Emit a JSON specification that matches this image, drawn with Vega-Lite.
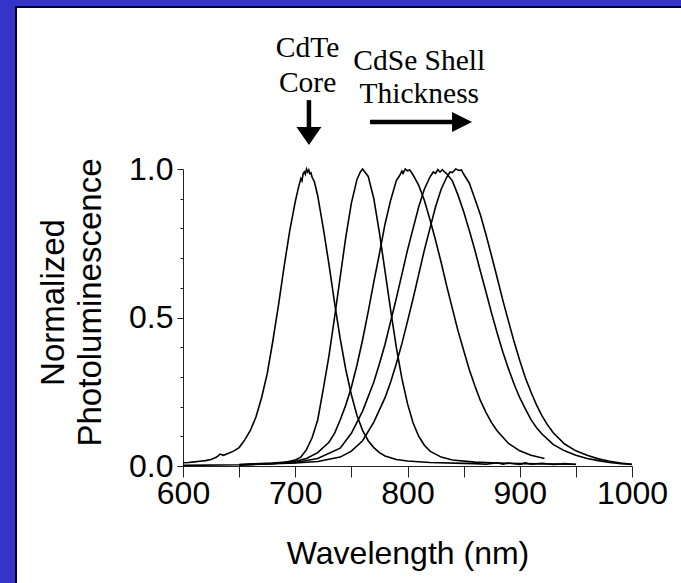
{
  "$schema": "https://vega.github.io/schema/vega-lite/v6.json",
  "width": 670,
  "height": 580,
  "autosize": {"type": "none"},
  "padding": {"left": 16, "top": 7, "right": 0, "bottom": 0},
  "background": "#3434c8",
  "config": {
    "view": {"fill": "white", "stroke": "#000033", "strokeWidth": 2},
    "font": "Liberation Sans"
  },
  "resolve": {"axis": {"y": "independent"}},
  "datasets": {
    "spectra": [
      {"s": "c1", "w": 600, "v": 0.011}, {"s": "c1", "w": 605, "v": 0.012}, {"s": "c1", "w": 610, "v": 0.014}, {"s": "c1", "w": 615, "v": 0.016},
      {"s": "c1", "w": 620, "v": 0.018}, {"s": "c1", "w": 625, "v": 0.022}, {"s": "c1", "w": 630, "v": 0.03}, {"s": "c1", "w": 633, "v": 0.04},
      {"s": "c1", "w": 636, "v": 0.036}, {"s": "c1", "w": 640, "v": 0.042}, {"s": "c1", "w": 645, "v": 0.05}, {"s": "c1", "w": 650, "v": 0.062},
      {"s": "c1", "w": 655, "v": 0.088}, {"s": "c1", "w": 660, "v": 0.12}, {"s": "c1", "w": 665, "v": 0.165}, {"s": "c1", "w": 670, "v": 0.23},
      {"s": "c1", "w": 675, "v": 0.31}, {"s": "c1", "w": 680, "v": 0.42}, {"s": "c1", "w": 685, "v": 0.54}, {"s": "c1", "w": 690, "v": 0.67},
      {"s": "c1", "w": 695, "v": 0.79}, {"s": "c1", "w": 700, "v": 0.89}, {"s": "c1", "w": 703, "v": 0.94}, {"s": "c1", "w": 705, "v": 0.968},
      {"s": "c1", "w": 706, "v": 0.96}, {"s": "c1", "w": 707, "v": 0.984}, {"s": "c1", "w": 708, "v": 0.99}, {"s": "c1", "w": 709, "v": 0.982},
      {"s": "c1", "w": 710, "v": 1.0}, {"s": "c1", "w": 711, "v": 0.99}, {"s": "c1", "w": 712, "v": 0.997}, {"s": "c1", "w": 713, "v": 0.984},
      {"s": "c1", "w": 714, "v": 0.987}, {"s": "c1", "w": 715, "v": 0.972}, {"s": "c1", "w": 717, "v": 0.958},
      {"s": "c1", "w": 720, "v": 0.91}, {"s": "c1", "w": 725, "v": 0.8}, {"s": "c1", "w": 730, "v": 0.68}, {"s": "c1", "w": 735, "v": 0.55},
      {"s": "c1", "w": 740, "v": 0.43}, {"s": "c1", "w": 745, "v": 0.325}, {"s": "c1", "w": 750, "v": 0.24}, {"s": "c1", "w": 755, "v": 0.17},
      {"s": "c1", "w": 760, "v": 0.12}, {"s": "c1", "w": 765, "v": 0.085}, {"s": "c1", "w": 770, "v": 0.062}, {"s": "c1", "w": 775, "v": 0.045},
      {"s": "c1", "w": 780, "v": 0.034}, {"s": "c1", "w": 790, "v": 0.022}, {"s": "c1", "w": 800, "v": 0.017}, {"s": "c1", "w": 820, "v": 0.012},
      {"s": "c1", "w": 850, "v": 0.009}, {"s": "c1", "w": 860, "v": 0.008}, {"s": "c1", "w": 870, "v": 0.006}, {"s": "c1", "w": 880, "v": 0.011},
      {"s": "c1", "w": 885, "v": 0.006}, {"s": "c1", "w": 890, "v": 0.01}, {"s": "c1", "w": 900, "v": 0.005}, {"s": "c1", "w": 905, "v": 0.011},
      {"s": "c1", "w": 910, "v": 0.006}, {"s": "c1", "w": 920, "v": 0.009}, {"s": "c1", "w": 930, "v": 0.005}, {"s": "c1", "w": 940, "v": 0.008},
      {"s": "c1", "w": 950, "v": 0.005},

      {"s": "c2", "w": 600, "v": 0.002}, {"s": "c2", "w": 650, "v": 0.004}, {"s": "c2", "w": 680, "v": 0.008}, {"s": "c2", "w": 690, "v": 0.012},
      {"s": "c2", "w": 700, "v": 0.02}, {"s": "c2", "w": 705, "v": 0.03}, {"s": "c2", "w": 710, "v": 0.055}, {"s": "c2", "w": 715, "v": 0.095},
      {"s": "c2", "w": 720, "v": 0.155}, {"s": "c2", "w": 725, "v": 0.26}, {"s": "c2", "w": 730, "v": 0.37}, {"s": "c2", "w": 735, "v": 0.5},
      {"s": "c2", "w": 740, "v": 0.635}, {"s": "c2", "w": 745, "v": 0.77}, {"s": "c2", "w": 750, "v": 0.885}, {"s": "c2", "w": 755, "v": 0.965},
      {"s": "c2", "w": 758, "v": 0.99}, {"s": "c2", "w": 760, "v": 1.0}, {"s": "c2", "w": 762, "v": 0.99}, {"s": "c2", "w": 765, "v": 0.975},
      {"s": "c2", "w": 770, "v": 0.9}, {"s": "c2", "w": 775, "v": 0.785}, {"s": "c2", "w": 780, "v": 0.655}, {"s": "c2", "w": 785, "v": 0.525},
      {"s": "c2", "w": 790, "v": 0.4}, {"s": "c2", "w": 795, "v": 0.295}, {"s": "c2", "w": 800, "v": 0.21}, {"s": "c2", "w": 805, "v": 0.145},
      {"s": "c2", "w": 810, "v": 0.1}, {"s": "c2", "w": 815, "v": 0.07}, {"s": "c2", "w": 820, "v": 0.05}, {"s": "c2", "w": 830, "v": 0.03},
      {"s": "c2", "w": 840, "v": 0.02}, {"s": "c2", "w": 860, "v": 0.013}, {"s": "c2", "w": 880, "v": 0.01}, {"s": "c2", "w": 900, "v": 0.008},
      {"s": "c2", "w": 950, "v": 0.006},

      {"s": "c3", "w": 650, "v": 0.005}, {"s": "c3", "w": 680, "v": 0.01}, {"s": "c3", "w": 700, "v": 0.016}, {"s": "c3", "w": 710, "v": 0.025},
      {"s": "c3", "w": 720, "v": 0.045}, {"s": "c3", "w": 730, "v": 0.08}, {"s": "c3", "w": 735, "v": 0.11}, {"s": "c3", "w": 740, "v": 0.155},
      {"s": "c3", "w": 745, "v": 0.205}, {"s": "c3", "w": 750, "v": 0.265}, {"s": "c3", "w": 755, "v": 0.34}, {"s": "c3", "w": 760, "v": 0.425},
      {"s": "c3", "w": 765, "v": 0.52}, {"s": "c3", "w": 770, "v": 0.62}, {"s": "c3", "w": 775, "v": 0.715}, {"s": "c3", "w": 780, "v": 0.815},
      {"s": "c3", "w": 785, "v": 0.895}, {"s": "c3", "w": 790, "v": 0.96}, {"s": "c3", "w": 793, "v": 0.978}, {"s": "c3", "w": 795, "v": 0.993},
      {"s": "c3", "w": 796, "v": 0.985}, {"s": "c3", "w": 798, "v": 1.0}, {"s": "c3", "w": 800, "v": 0.994}, {"s": "c3", "w": 802, "v": 0.997},
      {"s": "c3", "w": 805, "v": 0.98}, {"s": "c3", "w": 810, "v": 0.945}, {"s": "c3", "w": 815, "v": 0.895},
      {"s": "c3", "w": 820, "v": 0.83}, {"s": "c3", "w": 825, "v": 0.76}, {"s": "c3", "w": 830, "v": 0.685}, {"s": "c3", "w": 835, "v": 0.605},
      {"s": "c3", "w": 840, "v": 0.53}, {"s": "c3", "w": 845, "v": 0.455}, {"s": "c3", "w": 850, "v": 0.39}, {"s": "c3", "w": 855, "v": 0.325},
      {"s": "c3", "w": 860, "v": 0.27}, {"s": "c3", "w": 865, "v": 0.22}, {"s": "c3", "w": 870, "v": 0.18}, {"s": "c3", "w": 875, "v": 0.145},
      {"s": "c3", "w": 880, "v": 0.118}, {"s": "c3", "w": 890, "v": 0.076}, {"s": "c3", "w": 900, "v": 0.051}, {"s": "c3", "w": 910, "v": 0.036},
      {"s": "c3", "w": 922, "v": 0.025},

      {"s": "c4", "w": 650, "v": 0.004}, {"s": "c4", "w": 700, "v": 0.012}, {"s": "c4", "w": 720, "v": 0.025}, {"s": "c4", "w": 740, "v": 0.06},
      {"s": "c4", "w": 750, "v": 0.11}, {"s": "c4", "w": 760, "v": 0.185}, {"s": "c4", "w": 770, "v": 0.283}, {"s": "c4", "w": 775, "v": 0.344},
      {"s": "c4", "w": 780, "v": 0.41}, {"s": "c4", "w": 785, "v": 0.487}, {"s": "c4", "w": 790, "v": 0.564}, {"s": "c4", "w": 795, "v": 0.645},
      {"s": "c4", "w": 800, "v": 0.727}, {"s": "c4", "w": 805, "v": 0.8}, {"s": "c4", "w": 810, "v": 0.873}, {"s": "c4", "w": 815, "v": 0.932},
      {"s": "c4", "w": 820, "v": 0.973}, {"s": "c4", "w": 823, "v": 0.99}, {"s": "c4", "w": 825, "v": 0.985}, {"s": "c4", "w": 827, "v": 0.998},
      {"s": "c4", "w": 829, "v": 0.99}, {"s": "c4", "w": 831, "v": 0.998}, {"s": "c4", "w": 833, "v": 0.99},
      {"s": "c4", "w": 835, "v": 0.984}, {"s": "c4", "w": 840, "v": 0.96}, {"s": "c4", "w": 845, "v": 0.912}, {"s": "c4", "w": 850, "v": 0.857},
      {"s": "c4", "w": 855, "v": 0.794}, {"s": "c4", "w": 860, "v": 0.727}, {"s": "c4", "w": 865, "v": 0.655}, {"s": "c4", "w": 870, "v": 0.585},
      {"s": "c4", "w": 875, "v": 0.513}, {"s": "c4", "w": 880, "v": 0.446}, {"s": "c4", "w": 885, "v": 0.383}, {"s": "c4", "w": 890, "v": 0.327},
      {"s": "c4", "w": 895, "v": 0.275}, {"s": "c4", "w": 900, "v": 0.23}, {"s": "c4", "w": 905, "v": 0.192}, {"s": "c4", "w": 910, "v": 0.156},
      {"s": "c4", "w": 915, "v": 0.129}, {"s": "c4", "w": 920, "v": 0.107}, {"s": "c4", "w": 930, "v": 0.072}, {"s": "c4", "w": 940, "v": 0.051},
      {"s": "c4", "w": 950, "v": 0.036}, {"s": "c4", "w": 960, "v": 0.025}, {"s": "c4", "w": 970, "v": 0.018}, {"s": "c4", "w": 980, "v": 0.012},
      {"s": "c4", "w": 990, "v": 0.008}, {"s": "c4", "w": 1000, "v": 0.005},

      {"s": "c5", "w": 650, "v": 0.003}, {"s": "c5", "w": 700, "v": 0.01}, {"s": "c5", "w": 720, "v": 0.015}, {"s": "c5", "w": 740, "v": 0.03},
      {"s": "c5", "w": 750, "v": 0.05}, {"s": "c5", "w": 760, "v": 0.085}, {"s": "c5", "w": 770, "v": 0.148}, {"s": "c5", "w": 780, "v": 0.23},
      {"s": "c5", "w": 785, "v": 0.283}, {"s": "c5", "w": 790, "v": 0.344}, {"s": "c5", "w": 795, "v": 0.412}, {"s": "c5", "w": 800, "v": 0.487},
      {"s": "c5", "w": 805, "v": 0.564}, {"s": "c5", "w": 810, "v": 0.645}, {"s": "c5", "w": 815, "v": 0.727}, {"s": "c5", "w": 820, "v": 0.8},
      {"s": "c5", "w": 825, "v": 0.873}, {"s": "c5", "w": 830, "v": 0.932}, {"s": "c5", "w": 835, "v": 0.973}, {"s": "c5", "w": 838, "v": 0.99},
      {"s": "c5", "w": 840, "v": 0.988}, {"s": "c5", "w": 843, "v": 1.0}, {"s": "c5", "w": 846, "v": 0.995}, {"s": "c5", "w": 848, "v": 0.997},
      {"s": "c5", "w": 850, "v": 0.983}, {"s": "c5", "w": 855, "v": 0.953},
      {"s": "c5", "w": 860, "v": 0.9}, {"s": "c5", "w": 865, "v": 0.845}, {"s": "c5", "w": 870, "v": 0.778}, {"s": "c5", "w": 875, "v": 0.706},
      {"s": "c5", "w": 880, "v": 0.632}, {"s": "c5", "w": 885, "v": 0.557}, {"s": "c5", "w": 890, "v": 0.487}, {"s": "c5", "w": 895, "v": 0.418},
      {"s": "c5", "w": 900, "v": 0.355}, {"s": "c5", "w": 905, "v": 0.297}, {"s": "c5", "w": 910, "v": 0.249}, {"s": "c5", "w": 915, "v": 0.205},
      {"s": "c5", "w": 920, "v": 0.168}, {"s": "c5", "w": 925, "v": 0.137}, {"s": "c5", "w": 930, "v": 0.111}, {"s": "c5", "w": 940, "v": 0.074},
      {"s": "c5", "w": 950, "v": 0.051}, {"s": "c5", "w": 960, "v": 0.036}, {"s": "c5", "w": 970, "v": 0.024}, {"s": "c5", "w": 980, "v": 0.016},
      {"s": "c5", "w": 990, "v": 0.01}, {"s": "c5", "w": 1000, "v": 0.006}
    ]
  },
  "layer": [
    {
      "data": {"name": "spectra"},
      "mark": {"type": "line", "stroke": "black", "strokeWidth": 1.6, "interpolate": "linear"},
      "encoding": {
        "x": {
          "field": "w", "type": "quantitative",
          "scale": {"domain": [600, 1000], "range": [167, 616], "nice": false, "zero": false},
          "axis": {
            "orient": "bottom", "offset": -121,
            "values": [600, 650, 700, 750, 800, 850, 900, 950, 1000],
            "labelExpr": "datum.value % 100 === 0 ? datum.label : ''",
            "format": "d",
            "grid": false, "domainColor": "#222", "tickColor": "#222", "tickSize": 11,
            "labelFontSize": 32, "labelColor": "black", "labelPadding": 1,
            "labelFlush": false, "labelOverlap": false, "labelBound": false,
            "title": "Wavelength (nm)", "titleFontSize": 32, "titleFontWeight": "normal",
            "titleColor": "black", "titleBaseline": "alphabetic", "titleY": 97, "titleX": 391.5, "titleAlign": "center"
          }
        },
        "y": {
          "field": "v", "type": "quantitative",
          "scale": {"domain": [0, 1], "range": [459, 162], "nice": false, "zero": false},
          "axis": {
            "orient": "left", "offset": -167,
            "values": [0, 0.5, 1],
            "format": ".1f",
            "grid": false, "domainColor": "#222", "tickColor": "#222", "tickSize": 6,
            "labelFontSize": 32, "labelColor": "black", "labelPadding": 4,
            "labelFlush": false, "labelOverlap": false, "labelBound": false,
            "title": ["Normalized", "Photoluminescence"], "titleFontSize": 33, "titleFontWeight": "normal",
            "titleColor": "black", "titleAngle": 270, "titleBaseline": "alphabetic", "titleLineHeight": 37,
            "titleAlign": "center", "titleX": -120, "titleY": 295
          }
        },
        "detail": {"field": "s"}
      }
    },
    {
      "data": {"name": "spectra"},
      "mark": {"type": "point", "opacity": 0},
      "encoding": {
        "x": {"field": "w", "type": "quantitative"},
        "y": {
          "field": "v", "type": "quantitative",
          "axis": {
            "orient": "left", "offset": -167,
            "values": [0.1, 0.2, 0.3, 0.4, 0.6, 0.7, 0.8, 0.9],
            "labels": false, "domain": false, "grid": false, "title": null,
            "tickColor": "#222", "tickSize": 3
          }
        }
      }
    },
    {
      "data": {"values": [{}]},
      "mark": {"type": "text", "font": "Liberation Serif", "fontSize": 29.5, "align": "center", "baseline": "alphabetic", "lineHeight": 35, "color": "black"},
      "encoding": {
        "x": {"datum": 711},
        "y": {"datum": 1.377, "axis": null},
        "text": {"value": ["CdTe", "Core"]}
      }
    },
    {
      "data": {"values": [{}]},
      "mark": {"type": "text", "font": "Liberation Serif", "fontSize": 29.5, "align": "center", "baseline": "alphabetic", "lineHeight": 33, "color": "black"},
      "encoding": {
        "x": {"datum": 810.5},
        "y": {"datum": 1.333, "axis": null},
        "text": {"value": ["CdSe Shell", "Thickness"]}
      }
    },
    {
      "data": {"values": [{}]},
      "mark": {"type": "rule", "stroke": "black", "strokeWidth": 4.5},
      "encoding": {
        "x": {"datum": 712.2},
        "y": {"datum": 1.232, "axis": null},
        "y2": {"datum": 1.12}
      }
    },
    {
      "data": {"values": [{}]},
      "mark": {"type": "point", "shape": "M-1,-0.72L1,-0.72L0,0.72Z", "size": 625, "filled": true, "color": "black", "opacity": 1, "strokeWidth": 0},
      "encoding": {
        "x": {"datum": 712.2},
        "y": {"datum": 1.111, "axis": null}
      }
    },
    {
      "data": {"values": [{}]},
      "mark": {"type": "rule", "stroke": "black", "strokeWidth": 4.5},
      "encoding": {
        "x": {"datum": 766.6},
        "x2": {"datum": 850},
        "y": {"datum": 1.158, "axis": null}
      }
    },
    {
      "data": {"values": [{}]},
      "mark": {"type": "point", "shape": "M-1,-1L1,0L-1,1Z", "size": 400, "filled": true, "color": "black", "opacity": 1, "strokeWidth": 0},
      "encoding": {
        "x": {"datum": 848.6},
        "y": {"datum": 1.158, "axis": null}
      }
    }
  ]
}
